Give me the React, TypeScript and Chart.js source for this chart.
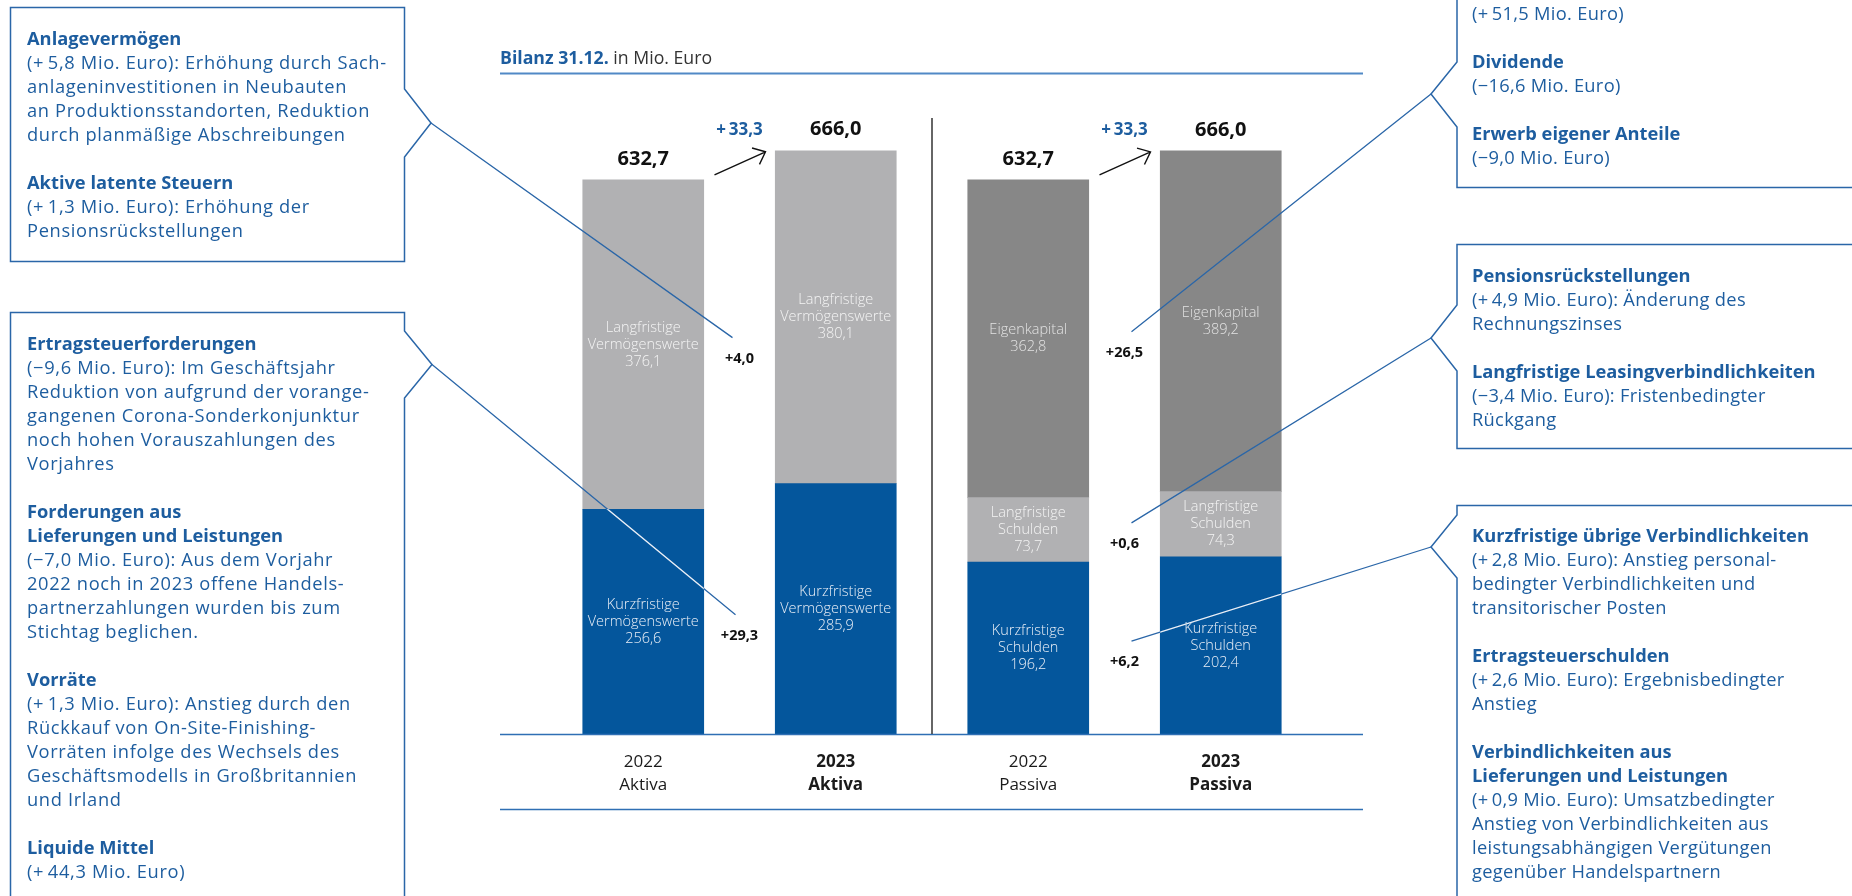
import React, { useEffect, useRef } from 'react';
import { Chart, registerables } from 'chart.js';

Chart.register(...registerables);

// ---------- data ----------
const categories = ['2022 Aktiva', '2023 Aktiva', '2022 Passiva', '2023 Passiva'];
const yearLabels = ['2022', '2023', '2022', '2023'];
const sideLabels = ['Aktiva', 'Aktiva', 'Passiva', 'Passiva'];
const highlightCategory = [false, true, false, true];

const kurzfristig = [256.6, 285.9, 196.2, 202.4];
const langfristig = [376.1, 380.1, 73.7, 74.3];
const eigenkapital = [null, null, 362.8, 389.2];

const kurzNames = [['Kurzfristige', 'Vermögenswerte'], ['Kurzfristige', 'Vermögenswerte'], ['Kurzfristige', 'Schulden'], ['Kurzfristige', 'Schulden']];
const langNames = [['Langfristige', 'Vermögenswerte'], ['Langfristige', 'Vermögenswerte'], ['Langfristige', 'Schulden'], ['Langfristige', 'Schulden']];
const eigenNames = [[], [], ['Eigenkapital'], ['Eigenkapital']];

const totalLabels = ['632,7', '666,0', '632,7', '666,0'];
const totalChangeLabels = ['+\u200933,3', '+\u200933,3'];
const changeKurz = ['+29,3', '+6,2'];
const changeLang = ['+4,0', '+0,6'];
const changeEigen = [null, '+26,5'];

// ---------- styles ----------
const FONT = '"Open Sans", "Noto Sans", sans-serif';
const BLUE = '#04569c';
const LIGHT = '#b1b1b3';
const DARK = '#878787';
const TEXT_BLUE = '#1d5d9f';
const LINE_BLUE = '#2a66a8';

type Para = { title: string[]; body: string[] };

const boxLeftTop: Para[] = [
  { title: ['Anlagevermögen'], body: ['(+\u20095,8 Mio. Euro): Erhöhung durch Sach-', 'anlageninvestitionen in Neubauten', 'an Produktionsstandorten, Reduktion', 'durch planmäßige Abschreibungen'] },
  { title: ['Aktive latente Steuern'], body: ['(+\u20091,3 Mio. Euro): Erhöhung der', 'Pensionsrückstellungen'] },
];
const boxLeftBottom: Para[] = [
  { title: ['Ertragsteuerforderungen'], body: ['(−9,6 Mio. Euro): Im Geschäftsjahr', 'Reduktion von aufgrund der vorange-', 'gangenen Corona-Sonderkonjunktur', 'noch hohen Vorauszahlungen des', 'Vorjahres'] },
  { title: ['Forderungen aus', 'Lieferungen und Leistungen'], body: ['(−7,0 Mio. Euro): Aus dem Vorjahr', '2022 noch in 2023 offene Handels-', 'partnerzahlungen wurden bis zum', 'Stichtag beglichen.'] },
  { title: ['Vorräte'], body: ['(+\u20091,3 Mio. Euro): Anstieg durch den', 'Rückkauf von On-Site-Finishing-', 'Vorräten infolge des Wechsels des', 'Geschäftsmodells in Großbritannien', 'und Irland'] },
  { title: ['Liquide Mittel'], body: ['(+\u200944,3 Mio. Euro)'] },
];
const boxRightTop: Para[] = [
  { title: [], body: ['(+\u200951,5 Mio. Euro)'] },
  { title: ['Dividende'], body: ['(−16,6 Mio. Euro)'] },
  { title: ['Erwerb eigener Anteile'], body: ['(−9,0 Mio. Euro)'] },
];
const boxRightMid: Para[] = [
  { title: ['Pensionsrückstellungen'], body: ['(+\u20094,9 Mio. Euro): Änderung des', 'Rechnungszinses'] },
  { title: ['Langfristige Leasingverbindlichkeiten'], body: ['(−3,4 Mio. Euro): Fristenbedingter', 'Rückgang'] },
];
const boxRightBottom: Para[] = [
  { title: ['Kurzfristige übrige Verbindlichkeiten'], body: ['(+\u20092,8 Mio. Euro): Anstieg personal-', 'bedingter Verbindlichkeiten und', 'transitorischer Posten'] },
  { title: ['Ertragsteuerschulden'], body: ['(+\u20092,6 Mio. Euro): Ergebnisbedingter', 'Anstieg'] },
  { title: ['Verbindlichkeiten aus', 'Lieferungen und Leistungen'], body: ['(+\u20090,9 Mio. Euro): Umsatzbedingter', 'Anstieg von Verbindlichkeiten aus', 'leistungsabhängigen Vergütungen', 'gegenüber Handelspartnern'] },
];

// box pointer tips (layout) and which change label they point to
const connectors = [
  { tip: [431, 123], ds: 1, pair: 0, dx: -7 },
  { tip: [432, 364.5], ds: 0, pair: 0, dx: -4 },
  { tip: [1431, 94], ds: 2, pair: 1, dx: 7 },
  { tip: [1431, 338], ds: 1, pair: 1, dx: 7 },
  { tip: [1431, 547], ds: 0, pair: 1, dx: 7 },
];

const fmt = (v: number) => v.toFixed(1).replace('.', ',');

const segmentNames = [kurzNames, langNames, eigenNames];
const segmentTextColors = ['#e9eef6', '#f4f4f4', '#e2e2e2'];
const changeLabels = [changeKurz, changeLang, changeEigen];
const pairs = [[0, 1], [2, 3]];

const bilanzPlugin = {
  id: 'bilanz',
  afterDatasetsDraw(chart: any) {
    const { ctx, scales } = chart;
    const xs = scales.x;
    const ys = scales.y;
    const base = ys.getPixelForValue(0);
    const metas = chart.data.datasets.map((_: any, i: number) => chart.getDatasetMeta(i));
    ctx.save();
    ctx.textAlign = 'center';
    ctx.textBaseline = 'middle';

    // segment labels inside bars
    metas.forEach((meta: any, i: number) => {
      const data = chart.data.datasets[i].data;
      meta.data.forEach((bar: any, j: number) => {
        const v = data[j];
        if (v == null || v === 0) return;
        const lines = [...segmentNames[i][j], fmt(v)];
        const cy = (bar.y + bar.base) / 2;
        ctx.fillStyle = segmentTextColors[i];
        ctx.font = `300 14.5px ${FONT}`;
        const lh = 17;
        lines.forEach((t: string, k: number) => {
          ctx.fillText(t, bar.x, cy + (k - (lines.length - 1) / 2) * lh);
        });
      });
    });

    // totals above bars
    const tops: number[] = [];
    categories.forEach((_, j) => {
      let top = base;
      metas.forEach((meta: any, i: number) => {
        const v = chart.data.datasets[i].data[j];
        if (v != null && v !== 0) top = Math.min(top, meta.data[j].y);
      });
      tops.push(top);
      ctx.fillStyle = '#111';
      ctx.font = `bold 20px ${FONT}`;
      ctx.fillText(totalLabels[j], xs.getPixelForValue(j), top - 21);
    });

    // arrows, total change, segment changes
    const labelPos: any = {};
    pairs.forEach(([a, b], p) => {
      const midX = (xs.getPixelForValue(a) + xs.getPixelForValue(b)) / 2;
      const x0 = midX - 25, y0 = tops[a] - 5, x1 = midX + 26, y1 = tops[b] + 1;
      ctx.strokeStyle = '#111';
      ctx.lineWidth = 1.4;
      ctx.beginPath();
      ctx.moveTo(x0, y0);
      ctx.lineTo(x1, y1);
      const ang = Math.atan2(y0 - y1, x0 - x1);
      const hl = 14, ha = 0.7;
      ctx.moveTo(x1 + hl * Math.cos(ang + ha), y1 + hl * Math.sin(ang + ha));
      ctx.lineTo(x1, y1);
      ctx.lineTo(x1 + hl * Math.cos(ang - ha), y1 + hl * Math.sin(ang - ha));
      ctx.stroke();

      ctx.fillStyle = TEXT_BLUE;
      ctx.font = `bold 17px ${FONT}`;
      ctx.fillText(totalChangeLabels[p], midX, tops[b] - 21);

      changeLabels.forEach((arr, i) => {
        const t = arr[p];
        if (!t) return;
        const bar = metas[i].data[a];
        const cy = (bar.y + bar.base) / 2 + 14;
        ctx.fillStyle = '#111';
        ctx.font = `bold 14.5px ${FONT}`;
        ctx.fillText(t, midX, cy);
        labelPos[`${i}-${p}`] = { x: midX, y: cy };
      });
    });

    // baseline + bottom line
    ctx.strokeStyle = '#2f6fb4';
    ctx.lineWidth = 1.5;
    ctx.beginPath();
    ctx.moveTo(500, base + 0.5);
    ctx.lineTo(1363, base + 0.5);
    ctx.moveTo(500, base + 75.5);
    ctx.lineTo(1363, base + 75.5);
    ctx.stroke();

    // divider between Aktiva and Passiva
    const divX = (xs.getPixelForValue(1) + xs.getPixelForValue(2)) / 2;
    ctx.strokeStyle = '#333';
    ctx.lineWidth = 1.5;
    ctx.beginPath();
    ctx.moveTo(divX, chart.chartArea.top - 3);
    ctx.lineTo(divX, base);
    ctx.stroke();

    // category labels
    categories.forEach((_, j) => {
      const x = xs.getPixelForValue(j);
      ctx.fillStyle = '#1a1a1a';
      ctx.font = `${highlightCategory[j] ? 'bold ' : ''}17px ${FONT}`;
      ctx.fillText(yearLabels[j], x, base + 28);
      ctx.fillText(sideLabels[j], x, base + 51);
    });

    // connectors from text boxes
    const drawConnectors = (color: string) => {
      ctx.strokeStyle = color;
      ctx.lineWidth = 1.3;
      ctx.beginPath();
      connectors.forEach((c) => {
        const lp = labelPos[`${c.ds}-${c.pair}`];
        if (!lp) return;
        ctx.moveTo(c.tip[0], c.tip[1]);
        ctx.lineTo(lp.x + c.dx, lp.y - 21);
      });
      ctx.stroke();
    };
    drawConnectors(LINE_BLUE);
    ctx.save();
    ctx.beginPath();
    metas[0].data.forEach((bar: any) => {
      ctx.rect(bar.x - bar.width / 2, bar.y, bar.width, bar.base - bar.y);
    });
    ctx.clip();
    drawConnectors('rgba(255,255,255,0.9)');
    ctx.restore();

    ctx.restore();
  },
};

function TextBox({ left, top, paras, spacing }: { left: number; top: number; paras: Para[]; spacing: number }) {
  return (
    <div style={{ position: 'absolute', left, top, color: TEXT_BLUE, fontSize: 18.3, lineHeight: '24px', whiteSpace: 'nowrap', fontFamily: FONT }}>
      {paras.map((p, i) => (
        <div key={i} style={{ marginTop: i ? 24 : 0 }}>
          {p.title.map((t, k) => (
            <div key={'t' + k} style={{ fontWeight: 700 }}>{t}</div>
          ))}
          {p.body.map((t, k) => (
            <div key={'b' + k} style={{ letterSpacing: `${spacing}px` }}>{t}</div>
          ))}
        </div>
      ))}
    </div>
  );
}

export default function App() {
  const ref = useRef<HTMLCanvasElement>(null);
  useEffect(() => {
    document.body.style.margin = '0';
    document.body.style.overflow = 'hidden';
    const chart = new Chart(ref.current as HTMLCanvasElement, {
      type: 'bar',
      data: {
        labels: categories,
        datasets: [
          { label: 'Kurzfristig', data: kurzfristig, backgroundColor: BLUE, borderWidth: 0, barThickness: 121 },
          { label: 'Langfristig', data: langfristig, backgroundColor: LIGHT, borderWidth: 0, barThickness: 121 },
          { label: 'Eigenkapital', data: eigenkapital as any, backgroundColor: DARK, borderWidth: 0, barThickness: 121 },
        ],
      },
      options: {
        animation: false,
        responsive: true,
        maintainAspectRatio: false,
        events: [],
        layout: { padding: { left: 547, right: 535, top: 121, bottom: 162 } },
        plugins: { legend: { display: false }, tooltip: { enabled: false }, title: { display: false } },
        scales: {
          x: { stacked: true, display: false },
          y: { stacked: true, display: false, min: 0, max: 700 },
        },
      },
      plugins: [bilanzPlugin],
    } as any);
    return () => chart.destroy();
  }, []);

  return (
    <div style={{ position: 'absolute', left: 0, top: 0, width: 1852, height: 896, overflow: 'hidden', background: '#fff', fontFamily: FONT }}>
      <div style={{ position: 'absolute', left: 0, top: 0, width: 1852, height: 896 }}>
        <canvas ref={ref} />
      </div>
      <svg width={1852} height={896} style={{ position: 'absolute', left: 0, top: 0, pointerEvents: 'none' }}>
        <g fill="none" stroke={LINE_BLUE} strokeWidth={1.5}>
          <path d="M10.5,7.5 H404.5 V89 L431,123 L404.5,157 V261.5 H10.5 Z" />
          <path d="M10.5,900 V312.5 H404.5 V331 L432,364.5 L404.5,398 V900" />
          <path d="M1457,-5 V62 L1431,94 L1457,127 V187.5 H1860" />
          <path d="M1860,244.5 H1457 V305 L1431,338 L1457,371 V448.5 H1860" />
          <path d="M1860,505.5 H1457 V515 L1431,547 L1457,578 V900" />
        </g>
        <line x1={500} y1={73.5} x2={1363} y2={73.5} stroke="#5189c6" strokeWidth={2} />
      </svg>
      <div style={{ position: 'absolute', left: 500, top: 44.7, fontSize: 17.7, lineHeight: '24px', whiteSpace: 'nowrap', color: '#333' }}>
        <span style={{ fontWeight: 700, color: TEXT_BLUE }}>Bilanz 31.12.</span> in Mio. Euro
      </div>
      <TextBox left={27} top={25.7} paras={boxLeftTop} spacing={0.65} />
      <TextBox left={27} top={330.7} paras={boxLeftBottom} spacing={0.65} />
      <TextBox left={1472} top={1} paras={boxRightTop} spacing={0.3} />
      <TextBox left={1472} top={263} paras={boxRightMid} spacing={0.3} />
      <TextBox left={1472} top={523} paras={boxRightBottom} spacing={0.3} />
    </div>
  );
}
